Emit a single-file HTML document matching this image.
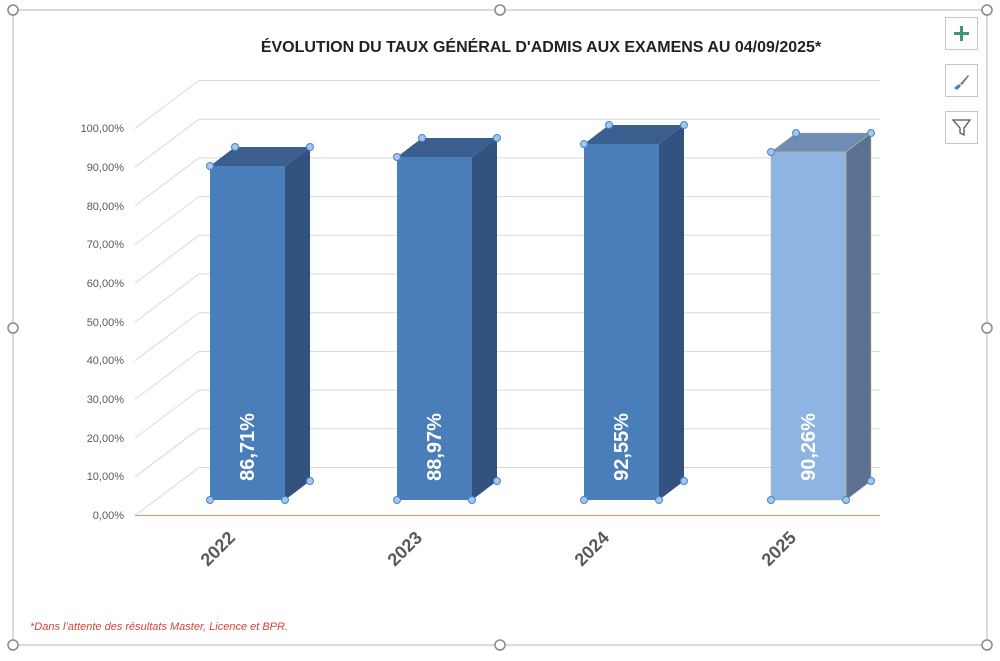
<!DOCTYPE html><html><head><meta charset="utf-8"><style>
body{margin:0;background:#fff;font-family:"Liberation Sans",sans-serif}
</style></head><body>
<svg width="1000" height="656" xmlns="http://www.w3.org/2000/svg" font-family="Liberation Sans, sans-serif">
<rect x="13" y="10" width="974" height="635" fill="#fff" stroke="#b4b4b4" stroke-width="1"/>
<text x="541" y="52" text-anchor="middle" font-size="16" font-weight="bold" fill="#222">ÉVOLUTION DU TAUX GÉNÉRAL D'ADMIS AUX EXAMENS AU 04/09/2025*</text>
<g stroke="#d9d9d9" stroke-width="1" fill="none">
<path d="M135 515.5L199 467.5H880"/><path d="M135 476.8L199 428.8H880"/><path d="M135 438.1L199 390.1H880"/><path d="M135 399.4L199 351.4H880"/><path d="M135 360.7L199 312.7H880"/><path d="M135 322L199 274H880"/><path d="M135 283.3L199 235.3H880"/><path d="M135 244.6L199 196.6H880"/><path d="M135 205.9L199 157.9H880"/><path d="M135 167.2L199 119.2H880"/><path d="M135 128.5L199 80.5H880"/>
</g>
<line x1="135" y1="515.5" x2="880" y2="515.5" stroke="#c9a97a" stroke-width="1.2"/>
<g font-size="11" fill="#595959" text-anchor="end">
<text x="124" y="519">0,00%</text><text x="124" y="480">10,00%</text><text x="124" y="442">20,00%</text><text x="124" y="403">30,00%</text><text x="124" y="364">40,00%</text><text x="124" y="326">50,00%</text><text x="124" y="287">60,00%</text><text x="124" y="248">70,00%</text><text x="124" y="210">80,00%</text><text x="124" y="171">90,00%</text><text x="124" y="132">100,00%</text>
</g>
<g>
<polygon points="285,166 310,147 310,481 285,500" fill="#325280"/>
<polygon points="210,166 235,147 310,147 285,166" fill="#3a5f8f"/>
<rect x="210" y="166" width="75" height="334" fill="#4a7ebb"/>
<polygon points="472,157 497,138 497,481 472,500" fill="#325280"/>
<polygon points="397,157 422,138 497,138 472,157" fill="#3a5f8f"/>
<rect x="397" y="157" width="75" height="343" fill="#4a7ebb"/>
<polygon points="659,144 684,125 684,481 659,500" fill="#325280"/>
<polygon points="584,144 609,125 684,125 659,144" fill="#3a5f8f"/>
<rect x="584" y="144" width="75" height="356" fill="#4a7ebb"/>
<polygon points="846,152 871,133 871,481 846,500" fill="#5a7191" stroke="#c8b88a" stroke-width="0.6"/>
<polygon points="771,152 796,133 871,133 846,152" fill="#6e8db5" stroke="#c8b88a" stroke-width="0.6"/>
<rect x="771" y="152" width="75" height="348" fill="#8db4e2" stroke="#c8b88a" stroke-width="0.6"/>
</g>
<g fill="#a9c4e6" stroke="#3d86d8" stroke-width="1">
<circle cx="210" cy="166" r="3.5"/><circle cx="235" cy="147" r="3.5"/><circle cx="310" cy="147" r="3.5"/><circle cx="310" cy="481" r="3.5"/><circle cx="285" cy="500" r="3.5"/><circle cx="210" cy="500" r="3.5"/>
<circle cx="397" cy="157" r="3.5"/><circle cx="422" cy="138" r="3.5"/><circle cx="497" cy="138" r="3.5"/><circle cx="497" cy="481" r="3.5"/><circle cx="472" cy="500" r="3.5"/><circle cx="397" cy="500" r="3.5"/>
<circle cx="584" cy="144" r="3.5"/><circle cx="609" cy="125" r="3.5"/><circle cx="684" cy="125" r="3.5"/><circle cx="684" cy="481" r="3.5"/><circle cx="659" cy="500" r="3.5"/><circle cx="584" cy="500" r="3.5"/>
<circle cx="771" cy="152" r="3.5"/><circle cx="796" cy="133" r="3.5"/><circle cx="871" cy="133" r="3.5"/><circle cx="871" cy="481" r="3.5"/><circle cx="846" cy="500" r="3.5"/><circle cx="771" cy="500" r="3.5"/>
</g>
<g font-size="20" font-weight="bold" fill="#fff" text-anchor="middle">
<text transform="translate(254,447) rotate(-90)">86,71%</text>
<text transform="translate(441,447) rotate(-90)">88,97%</text>
<text transform="translate(628,447) rotate(-90)">92,55%</text>
<text transform="translate(815,447) rotate(-90)">90,26%</text>
</g>
<g font-size="18" font-weight="bold" fill="#595959" text-anchor="middle">
<text transform="translate(222,553) rotate(-45)">2022</text>
<text transform="translate(409,553) rotate(-45)">2023</text>
<text transform="translate(596,553) rotate(-45)">2024</text>
<text transform="translate(783,553) rotate(-45)">2025</text>
</g>
<text x="30" y="630" font-size="11" font-style="italic" fill="#d9423a">*Dans l’attente des résultats Master, Licence et BPR.</text>
<g fill="#fff" stroke="#c6c6c6">
<rect x="945.5" y="17.5" width="32" height="32"/><rect x="945.5" y="64.5" width="32" height="32"/><rect x="945.5" y="111.5" width="32" height="32"/>
</g>
<path d="M961.5 26v15M954 33.5h15" stroke="#3f9b6f" stroke-width="3"/>
<path d="M954 88l5-4 2 2-4 4z" fill="#4a7ebb"/><path d="M960 84l8-9 1 1-7 9z" fill="#777"/>
<path d="M953 120h17l-6 8v7l-4-2v-5z" fill="none" stroke="#555" stroke-width="1.3"/>
<g fill="#fff" stroke="#888" stroke-width="1.5">
<circle cx="13" cy="10" r="5"/><circle cx="500" cy="10" r="5"/><circle cx="987" cy="10" r="5"/>
<circle cx="13" cy="328" r="5"/><circle cx="987" cy="328" r="5"/>
<circle cx="13" cy="645" r="5"/><circle cx="500" cy="645" r="5"/><circle cx="987" cy="645" r="5"/>
</g>
</svg>
</body></html>
